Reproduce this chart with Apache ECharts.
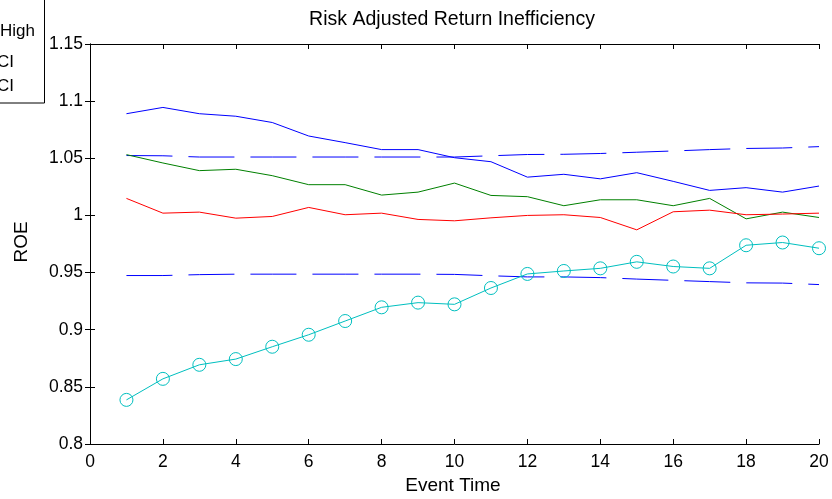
<!DOCTYPE html>
<html>
<head>
<meta charset="utf-8">
<script src="https://cdn.jsdelivr.net/npm/echarts@6/dist/echarts.min.js"></script>
<style>
html,body{margin:0;padding:0;background:#fff;}
#c{width:832px;height:499px;}
</style>
</head>
<body>
<div id="c"></div>
<script>
const eventTime = [1,2,3,4,5,6,7,8,9,10,11,12,13,14,15,16,17,18,19,20];
const highSeries = [1.089,1.0945,1.089,1.0868,1.0813,1.0695,1.0637,1.0576,1.0576,1.0505,1.047,1.0335,1.036,1.032,1.0374,1.0298,1.0219,1.0243,1.0204,1.0257];
const greenSeries = [1.0532,1.0459,1.0392,1.0404,1.0348,1.0269,1.0269,1.0178,1.0204,1.0283,1.0175,1.0164,1.0085,1.0137,1.0137,1.0085,1.0149,0.997,1.0029,0.9982];
const redSeries = [1.0149,1.002,1.0029,0.9976,0.9991,1.007,1.0006,1.002,0.9965,0.9953,0.9979,1.0,1.0006,0.9982,0.9874,1.0032,1.0046,1.0006,1.0012,1.002];
const upperCI = [1.0524,1.0522,1.0511,1.0511,1.0511,1.0511,1.0511,1.0511,1.0511,1.0511,1.0522,1.0533,1.0535,1.0542,1.0553,1.0564,1.0576,1.0586,1.059,1.0602];
const lowerCI = [0.9474,0.9474,0.9482,0.9486,0.9486,0.9486,0.9486,0.9486,0.9486,0.9484,0.9472,0.9462,0.9462,0.9456,0.9443,0.9432,0.9421,0.941,0.9408,0.9395];
const cyanSeries = [0.8386,0.857,0.8693,0.8743,0.8851,0.8956,0.9076,0.9196,0.9237,0.9222,0.9365,0.9488,0.9514,0.9537,0.9594,0.9553,0.9537,0.9739,0.9763,0.9713];
const xTicks = {min:0, max:20, interval:2};
const yTicks = {min:0.8, max:1.15, interval:0.05};

const FONT = 'Liberation Sans, Arial, Helvetica, sans-serif';
const pair = arr => arr.map((v,i)=>[eventTime[i], v]);
const chart = echarts.init(document.getElementById('c'), null, {renderer:'canvas'});
const axisCommon = {
  axisLine:{show:true, lineStyle:{color:'#000', width:1}},
  axisTick:{show:true, inside:true, length:5, lineStyle:{color:'#000'}},
  splitLine:{show:false}
};
function lineSeries(data, color, extra){
  return Object.assign({
    type:'line', data:pair(data), showSymbol:false, symbol:'none', animation:false,
    lineStyle:{color:color, width:1}, itemStyle:{color:color}, z:3
  }, extra||{});
}
chart.setOption({
  backgroundColor:'#fff',
  animation:false,
  grid:{left:90, right:13, top:44, bottom:55, containLabel:false},
  xAxis:[
    Object.assign({type:'value', position:'bottom', min:xTicks.min, max:xTicks.max, interval:xTicks.interval,
      axisLabel:{color:'#000', fontSize:17.5, fontFamily:FONT, margin:9}}, axisCommon),
    Object.assign({type:'value', position:'top', min:xTicks.min, max:xTicks.max, interval:xTicks.interval,
      axisLabel:{show:false}}, axisCommon)
  ],
  yAxis:[
    Object.assign({type:'value', position:'left', min:yTicks.min, max:yTicks.max, interval:yTicks.interval,
      axisLabel:{color:'#000', fontSize:17.5, fontFamily:FONT, margin:7, formatter:v=>String(+v.toFixed(2))}}, axisCommon),
    Object.assign({type:'value', position:'right', min:yTicks.min, max:yTicks.max, interval:yTicks.interval,
      axisLabel:{show:false}}, axisCommon)
  ],
  series:[
    lineSeries(upperCI, '#0000ff', {lineStyle:{color:'#0000ff', width:1, type:[46,16]}}),
    lineSeries(lowerCI, '#0000ff', {lineStyle:{color:'#0000ff', width:1, type:[46,16]}}),
    lineSeries(highSeries, '#0000ff'),
    lineSeries(greenSeries, '#008000'),
    lineSeries(redSeries, '#ff0000'),
    lineSeries(cyanSeries, '#00bfbf', {showSymbol:true, symbol:'circle', symbolSize:13,
      itemStyle:{color:'rgba(255,255,255,0)', borderColor:'#00bfbf', borderWidth:1}})
  ],
  graphic:[
    {type:'text', style:{text:'Risk Adjusted Return Inefficiency', x:452, y:20, textAlign:'center', textVerticalAlign:'middle', fontSize:19.5, fontFamily:FONT, fill:'#000'}},
    {type:'text', style:{text:'Event Time', x:453, y:486, textAlign:'center', textVerticalAlign:'middle', fontSize:19, fontFamily:FONT, fill:'#000'}},
    {type:'text', x:22, y:242, rotation:Math.PI/2, style:{text:'ROE', x:0, y:0, textAlign:'center', textVerticalAlign:'middle', fontSize:19, fontFamily:FONT, fill:'#000'}},
    {type:'rect', shape:{x:-10, y:-10, width:54.5, height:113}, style:{fill:'#fff', stroke:'#000', lineWidth:1}, z:10},
    {type:'text', style:{text:'High', x:0, y:31, textAlign:'left', textVerticalAlign:'middle', fontSize:17, fontFamily:FONT, fill:'#000'}, z:11},
    {type:'text', style:{text:'CI', x:-3, y:62, textAlign:'left', textVerticalAlign:'middle', fontSize:17, fontFamily:FONT, fill:'#000'}, z:11},
    {type:'text', style:{text:'CI', x:-3, y:86, textAlign:'left', textVerticalAlign:'middle', fontSize:17, fontFamily:FONT, fill:'#000'}, z:11}
  ]
});
</script>
</body>
</html>
